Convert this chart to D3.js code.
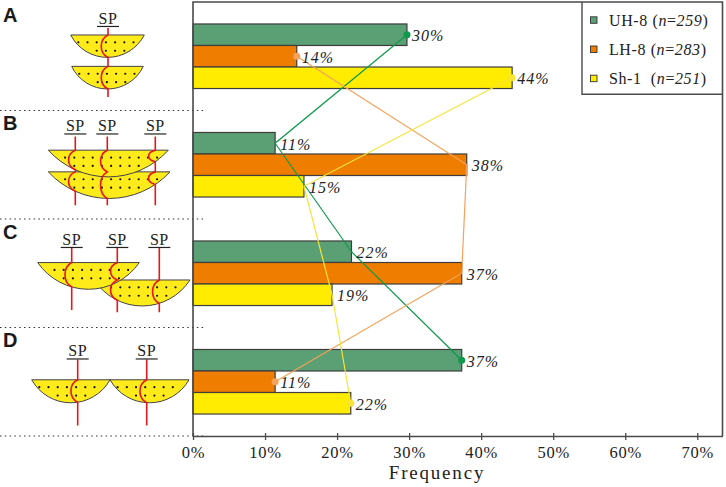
<!DOCTYPE html>
<html>
<head>
<meta charset="utf-8">
<script src="https://cdn.jsdelivr.net/npm/d3@7"></script>
<style>
  body { margin: 0; background: #fff; }
  svg { display: block; }
  text { font-family: "Liberation Serif", "Times New Roman", serif; fill: #222; }
</style>
</head>
<body>
<div id="chart"></div>
<script>
// data
const panels = ['A', 'B', 'C', 'D']
const seriesNames = ['UH-8', 'LH-8', 'Sh-1']
const sampleSizes = ['259', '283', '251']
const uh8 = [29.7, 11.4, 22.0, 37.3]
const lh8 = [14.4, 38.0, 37.3, 11.4]
const sh1 = [44.3, 15.4, 19.3, 21.9]
const xTicks = [0, 10, 20, 30, 40, 50, 60, 70]

// colours
const barColor = { 'UH-8': '#5b9f74', 'LH-8': '#ef7d00', 'Sh-1': '#ffec00' }
const lineColor = { 'UH-8': '#0d9a4b', 'LH-8': '#f5a25a', 'Sh-1': '#f6e43a' }

const series = seriesNames.map((name, i) => ({ name: name, n: sampleSizes[i], values: [uh8, lh8, sh1][i] }))

// canvas
const svgWidth = 726
const svgHeight = 487
const svg = d3.select('#chart').append('svg').attr('width', svgWidth).attr('height', svgHeight)

// scales
const x = d3.scaleLinear().domain([0, 73.5]).range([193, 722.5])
const y = d3.scaleBand().domain(panels).range([2, 436]).paddingInner(0.405).paddingOuter(0.2025)
const yInner = d3.scaleBand().domain(seriesNames).range([0, y.bandwidth()])
const gap = y.step() - y.bandwidth()
const yMid = (panel, name) => y(panel) + yInner(name) + yInner.bandwidth() / 2

// dotted separators between panels
svg.append('g').selectAll('line').data(panels).join('line')
  .attr('x1', 0).attr('x2', 205)
  .attr('y1', d => y(d) + y.bandwidth() + gap / 2)
  .attr('y2', d => y(d) + y.bandwidth() + gap / 2)
  .attr('stroke', '#333').attr('stroke-width', 1.2).attr('stroke-dasharray', '1.5,3.3')

// bars
const rows = series.flatMap(s => s.values.map((v, i) => ({ name: s.name, panel: panels[i], value: v })))
svg.append('g').selectAll('rect').data(rows).join('rect')
  .attr('x', x(0))
  .attr('y', d => y(d.panel) + yInner(d.name))
  .attr('width', d => x(d.value) - x(0))
  .attr('height', yInner.bandwidth())
  .attr('fill', d => barColor[d.name])
  .attr('stroke', '#3d3d3d').attr('stroke-width', 1.2)

// connecting lines
const line = d3.line().x(d => x(d.value)).y(d => yMid(d.panel, d.name))
series.forEach(s => {
  const pts = s.values.map((v, i) => ({ name: s.name, panel: panels[i], value: v }))
  svg.append('path').datum(pts).attr('d', line)
    .attr('fill', 'none').attr('stroke', lineColor[s.name]).attr('stroke-width', 1.2)
  svg.append('g').selectAll('circle').data([pts[0], pts[pts.length - 1]]).join('circle')
    .attr('cx', d => x(d.value)).attr('cy', d => yMid(d.panel, d.name))
    .attr('r', 3.5).attr('fill', lineColor[s.name])
})

// value labels
svg.append('g').selectAll('text').data(rows).join('text')
  .attr('x', d => x(d.value) + 5)
  .attr('y', d => yMid(d.panel, d.name) + 6.3)
  .attr('font-size', 16).attr('font-style', 'italic').attr('letter-spacing', 1)
  .text(d => Math.round(d.value) + '%')

// frame + axis
svg.append('path')
  .attr('d', `M${x(0)},436 V2 H${x.range()[1]} V436`)
  .attr('fill', 'none').attr('stroke', '#4a4a4a').attr('stroke-width', 1.6)

const xAxis = d3.axisBottom(x).tickValues(xTicks).tickFormat(d => d + '%').tickSizeOuter(0)
const axisG = svg.append('g').attr('transform', 'translate(0,436)').call(xAxis)
axisG.select('.domain').attr('stroke', '#4a4a4a').attr('stroke-width', 1.6)
axisG.selectAll('.tick line').attr('y1', -3).attr('y2', 4).attr('stroke', '#4a4a4a').attr('stroke-width', 1.3)
axisG.selectAll('.tick text')
  .attr('y', 22).attr('dy', 0)
  .attr('font-size', 16.5)
  .attr('letter-spacing', 0.8).attr('fill', '#222')

svg.append('text').attr('x', 437).attr('y', 479.3).attr('text-anchor', 'middle')
  .attr('font-size', 19).attr('letter-spacing', 1.8).text('Frequency')

// legend
svg.append('path')
  .attr('d', `M${x.range()[1]},94.3 H582 V2`)
  .attr('fill', 'none').attr('stroke', '#4a4a4a').attr('stroke-width', 1.4)
const legend = svg.append('g').selectAll('g').data(series).join('g')
  .attr('transform', (d, i) => `translate(590.5, ${20 + i * 29.2})`)
legend.append('rect').attr('x', 0).attr('y', -3.2).attr('width', 6.5).attr('height', 6.5)
  .attr('fill', d => barColor[d.name]).attr('stroke', '#333').attr('stroke-width', 0.9)
const lt = legend.append('text').attr('x', 18.5).attr('y', 6).attr('font-size', 16)
  .attr('letter-spacing', 0.6).style('white-space', 'pre')
lt.append('tspan').text(d => d.name === 'Sh-1' ? d.name + '  (' : d.name + ' (')
lt.append('tspan').attr('font-style', 'italic').text('n')
lt.append('tspan').text('=')
lt.append('tspan').attr('font-style', 'italic').text(d => d.n)
lt.append('tspan').text(')')

// panel letters
svg.append('g').selectAll('text').data(panels).join('text')
  .attr('x', 3).attr('y', d => y(d) - 2)
  .style('font-family', '"Liberation Sans", Arial, sans-serif')
  .attr('font-weight', 'bold').attr('font-size', 20).style('fill', '#1a1a1a')
  .text(d => d)

// schematic sketches (offsets relative to the top of each panel's bars)
const sketches = {
  A: { sp: [108], spY: 0, bowls: [[70.7, 144.3, 11, 22.4], [71.7, 143.3, 42.4, 22.6]], faults: [[108, 4, 73]] },
  B: { sp: [75.3, 107.3, 155.3], spY: -1, bowls: [[48.3, 170, 39.4, 26.6], [48.3, 168.3, 17.7, 26.7]], faults: [[75.3, 4, 72.7], [107.3, 4, 72.7], [155.3, 4, 72.7]] },
  C: { sp: [71.7, 117.3, 159.3], spY: 4, bowls: [[94.3, 190, 39, 26], [37.7, 139.3, 21.6, 26.7]], faults: [[71.7, 7, 69], [117.3, 7, 71.3], [159.3, 7, 71.3]] },
  D: { sp: [77.7, 146.7], spY: 7, bowls: [[31.7, 110, 30.3, 23], [110, 189, 30.3, 23]], faults: [[77.7, 10, 76], [146.7, 10, 76]] }
}

function bowlGeom(b, top) {
  const [x0, x1, t, d] = b
  const a = (x1 - x0) / 2
  const R = (a * a + d * d) / (2 * d)
  const cx = (x0 + x1) / 2
  const yt = top + t
  const cy = yt + d - R
  return { x0, x1, yt, R, cx, cy, bottomAt: xx => cy + Math.sqrt(Math.max(0, R * R - (xx - cx) * (xx - cx))) }
}

panels.forEach(p => {
  const s = sketches[p]
  const top = y(p)
  const g = svg.append('g')
  const geoms = s.bowls.map(b => bowlGeom(b, top))
  geoms.forEach(b => {
    g.append('path')
      .attr('d', `M${b.x0},${b.yt} L${b.x1},${b.yt} A${b.R},${b.R} 0 0 1 ${b.x0},${b.yt} Z`)
      .attr('fill', '#ffeb1a').attr('stroke', '#444').attr('stroke-width', 1)
    const dots = []
    for (let yy = b.yt + 7.4; yy < b.bottomAt(b.cx) - 1.5; yy += 8.4) {
      for (let xx = b.x0 + 7.6; xx < b.x1 - 3; xx += 9.2) {
        if (yy < b.bottomAt(xx) - 2.5) dots.push([xx, yy])
      }
    }
    g.append('g').selectAll('circle').data(dots).join('circle')
      .attr('cx', d => d[0]).attr('cy', d => d[1]).attr('r', 1.1).attr('fill', '#111')
  })
  // red fault lines with a bend in each bowl
  s.faults.forEach(f => {
    const [fx, f0, f1] = f
    const hits = geoms.filter(b => fx > b.x0 && fx < b.x1).sort((a, b) => a.yt - b.yt)
    let d = `M${fx},${top + f0}`
    hits.forEach((b, i) => {
      const y0 = b.yt
      const y1 = i < hits.length - 1 ? Math.min(hits[i + 1].yt, b.bottomAt(fx)) : b.bottomAt(fx)
      const h = y1 - y0
      d += ` L${fx},${y0} C${fx - 9},${y0 + h * 0.2} ${fx - 9},${y0 + h * 0.8} ${fx},${y1}`
    })
    d += ` L${fx},${top + f1}`
    g.append('path').attr('d', d).attr('fill', 'none').attr('stroke', '#e8151b').attr('stroke-width', 1.6)
  })
  // SP labels with underline
  s.sp.forEach(sx => {
    g.append('text').attr('x', sx).attr('y', top + s.spY).attr('text-anchor', 'middle')
      .attr('font-size', 16).attr('letter-spacing', 0.5).text('SP')
    g.append('line').attr('x1', sx - 11).attr('x2', sx + 11)
      .attr('y1', top + s.spY + 2.5).attr('y2', top + s.spY + 2.5)
      .attr('stroke', '#222').attr('stroke-width', 1.2)
  })
})
</script>
</body>
</html>
